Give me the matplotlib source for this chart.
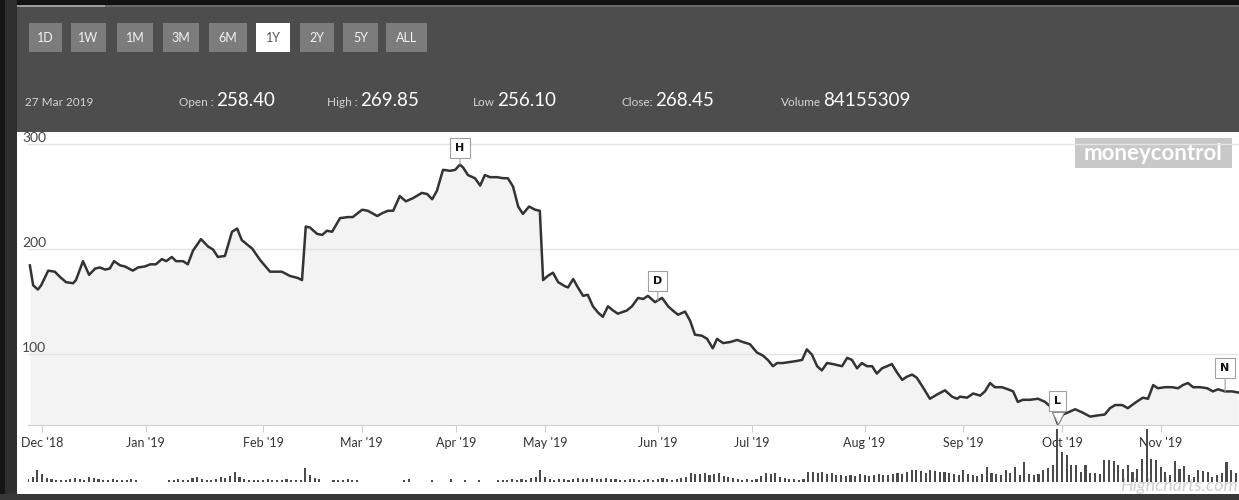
import matplotlib
matplotlib.use('Agg')
import matplotlib.pyplot as plt
from matplotlib.patches import Rectangle
from matplotlib.transforms import offset_copy
from matplotlib import font_manager
import numpy as np

# ---- data ----
range_buttons = ['1D', '1W', '1M', '3M', '6M', '1Y', '2Y', '5Y', 'ALL']
selected_range = '1Y'
quote_date = '27 Mar 2019'
quote_labels = ['Open :', 'High :', 'Low', 'Close:', 'Volume']
quote_values = ['258.40', '269.85', '256.10', '268.45', '84155309']

# trading session index (ordinal x axis) and closing price
session = [0.4, 1.1, 2.1, 2.8, 4.3, 5.7, 6.8, 8.1, 9.6, 10.2,
           11.7, 13.0, 14.3, 15.3, 16.4, 17.4, 18.3, 19.6, 20.6, 22.3,
           23.4, 24.9, 26.0, 27.2, 28.5, 29.4, 30.6, 31.5, 33.0, 34.0,
           35.1, 36.8, 38.3, 39.4, 40.4,
           41.9, 43.4, 44.5, 45.5, 47.7, 49.4, 51.5, 54.0, 55.7, 57.4,
           58.3, 59.1, 60.0, 61.5, 62.6, 63.6, 64.7, 66.4, 68.1, 69.1,
           71.1, 72.3, 74.3, 75.5, 76.6, 77.7, 79.1, 80.4, 81.9, 83.8,
           84.9, 86.0, 87.0, 88.3, 89.8, 90.9, 91.9, 92.6, 93.6, 95.1,
           96.2, 97.2, 98.3, 99.8, 101.1, 102.1, 103.2, 104.3, 105.3, 106.6,
           107.9, 108.9, 109.6, 110.6, 111.7, 112.8, 114.3, 114.9, 116.0, 117.0,
           118.1, 119.1, 120.2, 121.3, 122.3, 123.4, 124.5, 125.5,
           127.4, 128.5, 129.8, 130.9, 131.9, 133.4, 134.9, 136.2, 137.2, 138.3,
           139.8, 140.9, 141.9, 143.4, 144.5, 145.7, 146.6, 147.9, 149.4, 150.9,
           152.1, 153.6, 155.1, 156.4, 157.4, 158.5, 159.4, 160.6, 162.1, 163.6,
           164.7, 165.7, 166.8, 167.9, 168.9,
           170.0, 171.3, 173.2, 174.3, 175.3, 176.4, 177.4, 178.5, 179.6, 180.6,
           181.7, 182.8, 183.8, 184.9, 186.0, 187.0, 188.1, 189.1, 190.4, 191.9,
           193.4, 195.1, 196.6, 197.7, 198.3, 199.8, 201.1, 202.6, 203.6, 204.7,
           205.7, 207.2, 208.5, 209.6, 210.6, 211.7, 213.2,
           214.9, 216.4, 217.9, 219.1, 220.2, 221.3, 222.8, 224.3, 226.0, 227.4,
           229.1, 230.2, 231.3, 232.8, 234.0, 235.5, 237.2, 238.3, 239.4, 240.4,
           241.9, 243.4, 244.7, 245.7, 246.8, 247.9, 249.4, 250.9, 252.1, 253.2,
           254.7, 256.2, 257.4]
close = [184, 165, 161, 165, 179, 178, 173, 168, 167, 170,
         188, 175, 181, 182, 180, 181, 188, 184, 183, 179,
         182, 183, 185, 185, 190, 188, 192, 188, 188, 185,
         198, 209, 202, 199, 192,
         193, 216, 219, 208, 200, 189, 178, 178, 174, 172,
         170, 221, 220, 214, 213, 217, 216, 229, 230, 230,
         237, 236, 231, 234, 236, 236, 250, 245, 248, 253,
         252, 247, 255, 275, 274, 275, 280, 277, 270, 267,
         260, 270, 268, 268, 267, 267, 259, 240, 233, 240,
         237, 236, 170, 174, 177, 168, 164, 163, 171, 163,
         155, 156, 145, 139, 135, 145, 141, 138,
         141, 145, 153, 152, 155, 149, 153, 145, 141, 137,
         140, 131, 118, 117, 114, 105, 114, 110, 111, 113,
         111, 109, 101, 98, 94, 88, 91, 91, 92, 93,
         94, 104, 99, 88, 84,
         91, 90, 88, 96, 94, 86, 91, 88, 88, 81,
         86, 88, 90, 82, 75, 78, 80, 77, 68, 57,
         61, 65, 59, 57, 59, 58, 62, 60, 64, 72,
         68, 68, 66, 64, 54, 56, 56,
         57, 54, 48, 33, 42, 44, 47, 44, 40, 41,
         42, 48, 51, 51, 48, 53, 58, 57, 70, 67,
         68, 68, 67, 70, 72, 68, 68, 67, 64, 66,
         64, 64, 63]

# daily volume, one bar per session (tens of millions of shares)
volume = [3, 5, 12, 8, 4, 3, 2,
          2, 2, 3, 4, 3, 2, 5, 4, 3, 2, 2, 3, 2, 2, 2, 3, 2,
          0, 0, 0, 0, 0, 0,
          2, 2, 3, 2, 2, 4, 5, 3, 2, 2, 3, 5, 4, 6, 10, 5, 3, 2, 2,
          2, 2, 3, 2, 2, 2, 3, 2, 2, 2,
          14, 7, 4, 3,
          0, 0,
          2, 2, 2, 3, 2, 2,
          0, 0, 0, 0, 0, 0, 0, 0, 0,
          2, 3, 0, 0, 0, 0, 2, 0, 0, 0, 3, 0, 0, 2, 0, 0, 2, 0, 0, 0, 2,
          2, 2, 3, 2, 3, 2, 4, 5,
          12, 5,
          3, 2, 3, 3, 2, 3, 4, 3, 3, 4, 3, 3, 4, 3, 3, 2, 2, 3, 3, 2,
          2, 3, 2, 3, 4, 3, 2, 3, 4, 5,
          9, 8, 8, 9, 7, 8, 9, 6, 5, 4,
          3, 2, 3, 2, 3,
          6, 9, 8, 9, 5, 4,
          3, 3, 2, 3,
          10, 10, 9, 10, 8, 9, 7,
          7, 6, 7, 6, 8, 7, 6, 7, 8, 7, 7, 8, 9, 8, 10, 12, 12, 11, 9,
          12, 11, 10, 10, 9,
          8, 7, 12, 8, 7, 6, 8, 15, 9,
          8, 7, 12, 9, 15, 7,
          20, 8, 7, 8, 12, 14, 17, 53, 30, 27, 17, 17, 10, 17, 9, 9, 8, 22, 22, 21,
          17, 13, 17, 10, 13, 23, 53, 23, 22, 15, 10, 7, 21, 13, 16, 7, 5, 12, 11, 10,
          5, 7, 9, 20,
          12, 9]

month_sessions = [3, 25, 50, 71, 91, 110, 134, 154, 178, 199, 220, 241]
month_labels = ["Dec '18", "Jan '19", "Feb '19", "Mar '19", "Apr '19", "May '19",
                "Jun '19", "Jul '19", "Aug '19", "Sep '19", "Oct '19", "Nov '19"]
flag_letters = ['H', 'D', 'L', 'N']
flag_sessions = [91.9, 134.0, 219.1, 254.7]

# ---- style ----
names = {f.name for f in font_manager.fontManager.ttflist}
ui_font = 'Liberation Sans Narrow' if 'Liberation Sans Narrow' in names else 'Lato'
plt.rcParams['font.family'] = [ui_font, 'DejaVu Sans']

W, H = 1239, 500
fig = plt.figure(figsize=(W / 100, H / 100), dpi=100, facecolor='#4d4d4d')


def box(x0, y0, x1, y1, color, z=-5):
    # rectangle given in screen pixels (top-left origin)
    fig.add_artist(Rectangle((x0 / W, 1 - y1 / H), (x1 - x0) / W, (y1 - y0) / H,
                             transform=fig.transFigure, facecolor=color,
                             edgecolor='none', zorder=z))


def ftext(x, y, s, **kw):
    return fig.text(x / W, 1 - y / H, s, **kw)


# frame / header
box(0, 0, W, 5, '#121212')
box(14, 5, W, 7, '#686868')
box(14, 5, 105, 7, '#9c9c9c')
box(0, 0, 17, H, '#2f2f2f')
box(0, 0, 5, H, '#151515')
box(17, 132, W, 494, 'white', z=-4)
box(17, 7, W, 132, '#4d4d4d', z=2)
box(0, 494, W, H, '#383838', z=6)

btn_x = [(29, 62), (71, 106), (117, 153), (163, 199), (209, 247),
         (256, 290), (300, 334), (343, 378), (386, 427)]
for lab, (x0, x1) in zip(range_buttons, btn_x):
    sel = lab == selected_range
    box(x0, 23, x1, 52, 'white' if sel else '#7c7c7c', z=3)
    ftext((x0 + x1) / 2, 38, lab, ha='center', va='center', fontsize=9,
          color='#555555' if sel else '#f2f2f2', zorder=4)

ftext(25, 106, quote_date, fontsize=8.5, color='#d4d4d4', va='baseline', zorder=4)
value_x = [216, 360, 497, 655, 823]
for lab, val, vx in zip(quote_labels, quote_values, value_x):
    ftext(vx - 2, 106, lab, fontsize=8.5, color='#d4d4d4', ha='right', va='baseline', zorder=4)
    ftext(vx, 106, val, fontsize=13.5, color='white', va='baseline', zorder=4)

# watermark + credits
box(1075, 138, 1232, 168, '#c8c8c8', z=-3)
ftext(1153, 153, 'moneycontrol', ha='center', va='center', fontsize=16,
      fontweight='bold', color='white', zorder=-2)
ftext(1238, 486, 'Highcharts.com', ha='right', va='center', fontsize=13,
      style='italic', color='#cfcfcf', zorder=-2)

# ---- price pane ----
xmax = (W - 28) / 4.7
ax = fig.add_axes([28 / W, 1 - 425 / H, (W - 28) / W, (425 - 132) / H])
ax.set_facecolor('none')
ax.fill_between(session, close, 0, color='#f3f3f3', lw=0, zorder=1)
ax.plot(session, close, color='#333333', lw=1.8, zorder=3, solid_joinstyle='round')
ax.set_xlim(0, xmax)
ax.set_ylim(32, 311)
ax.set_yticks([100, 200, 300])
ax.grid(axis='y', color='#e4e4e4', lw=1)
ax.set_axisbelow(False)
for sp in ['top', 'right', 'left']:
    ax.spines[sp].set_visible(False)
ax.spines['bottom'].set_color('#cfcfcf')
ax.spines['bottom'].set_linestyle((0, (2, 1)))
ax.set_xticks(month_sessions)
ax.set_xticklabels(month_labels)
ax.tick_params(axis='x', length=5, color='#cfcfcf', labelsize=9,
               labelcolor='#333333', pad=3.5)
ax.tick_params(axis='y', length=0, pad=4.3, labelsize=10, labelcolor='#444444')
plt.setp(ax.get_yticklabels(), ha='left', va='bottom')

# flags
flag_off = {'H': 12, 'D': 14, 'L': 16.5, 'N': 17}
for letter, s in zip(flag_letters, flag_sessions):
    p = np.interp(s, session, close)
    ax.annotate(letter, xy=(s, p), xytext=(0, flag_off[letter]), textcoords='offset points',
                ha='center', va='center', fontsize=8, fontweight='bold', color='#111111',
                fontfamily='DejaVu Sans',
                bbox=dict(boxstyle='square,pad=0.45', fc='white', ec='#a0a0a0', lw=0.8),
                arrowprops=dict(arrowstyle='-', color='#a0a0a0', lw=0.8, shrinkA=0, shrinkB=0),
                zorder=5, annotation_clip=False)
    if letter == 'L':
        ax.plot([s], [p], marker='v', ms=8, mfc='white', mec='#909090', mew=0.8,
                transform=offset_copy(ax.transData, fig, y=6, units='dots'),
                zorder=6, clip_on=False)

# ---- volume pane ----
vax = fig.add_axes([28 / W, 1 - 482 / H, (W - 28) / W, (482 - 427) / H], zorder=1)
vax.bar(np.arange(len(volume)), volume, width=0.45, color='#4a4a4a')
vax.set_xlim(0, xmax)
vax.set_ylim(0, 55)
vax.axis('off')

fig.savefig('out.png', dpi=100, facecolor=fig.get_facecolor())
